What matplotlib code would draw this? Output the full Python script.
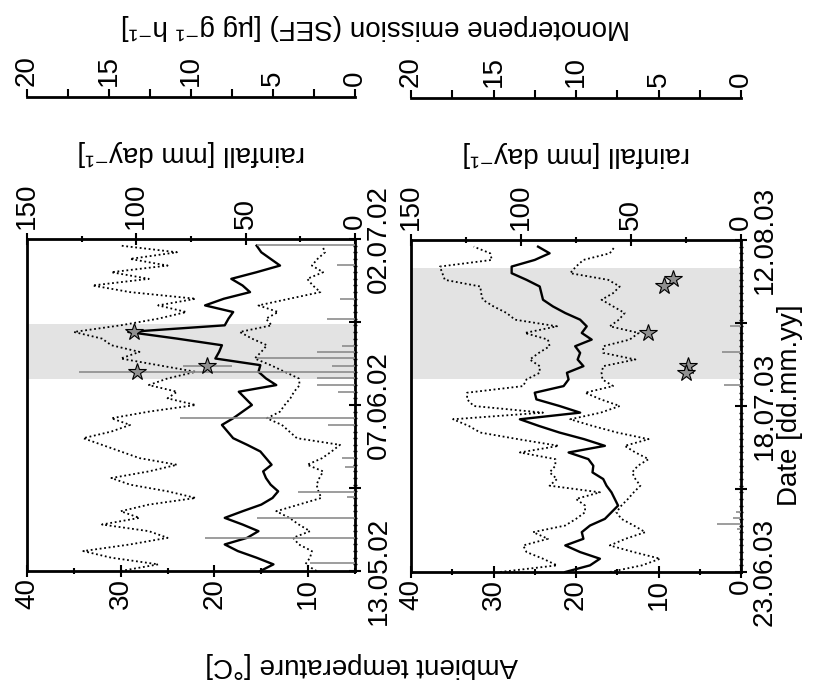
import matplotlib.pyplot as plt
from matplotlib.ticker import MultipleLocator, FixedLocator

plt.rcParams['font.family'] = ['Liberation Sans', 'DejaVu Sans']
plt.rcParams['font.size'] = 20

# ---- 2002 (13.05.02 - 02.07.02), day 0 = 13.05.02
days02 = list(range(50))
tmean02 = [15.1, 13.7, 15.5, 17.5, 18.9, 16.5, 15.3, 17.0, 18.9, 17.0,
           15.0, 13.8, 13.2, 14.0, 14.5, 14.8, 13.9, 14.5, 15.1, 16.5,
           18.0, 18.6, 19.2, 18.0, 17.0, 16.0, 16.7, 17.4, 13.4, 14.5,
           15.3, 15.1, 19.9, 19.5, 19.2, 24.0, 29.2, 18.9, 18.5, 18.0,
           21.0, 19.0, 16.2, 17.0, 18.2, 15.5, 13.0, 14.0, 15.0, 15.5]
tmax02 = [30.0, 26.0, 31.0, 34.0, 29.0, 25.0, 27.0, 32.0, 28.0, 30.0,
          27.0, 22.0, 25.0, 29.0, 31.0, 27.0, 24.0, 28.0, 30.0, 32.0,
          34.0, 31.0, 29.0, 31.0, 27.0, 22.0, 25.0, 24.0, 27.0, 25.0,
          22.0, 26.0, 30.0, 28.0, 31.0, 32.0, 35.0, 30.0, 26.0, 23.0,
          26.0, 22.0, 29.0, 33.0, 27.0, 31.0, 25.0, 29.0, 24.0, 30.0]
tmin02 = [9.1, 10.3, 9.8, 9.6, 11.0, 11.6, 9.8, 11.0, 12.0, 13.4,
          11.0, 8.6, 8.9, 9.1, 8.8, 8.4, 10.1, 8.5, 7.5, 6.6,
          11.2, 12.0, 12.8, 14.4, 13.0, 12.5, 11.9, 11.5, 10.9, 11.0,
          12.5, 14.0, 15.7, 15.0, 14.4, 16.0, 17.3, 13.9, 14.5, 13.2,
          15.3, 12.0, 8.7, 9.5, 10.1, 8.4, 9.6, 9.0, 8.2, 8.5]
rain_days02 = [49.1, 46.1, 40.9, 38.0, 33.9, 33.0, 32.1, 30.9, 29.9, 29.0,
               28.0, 27.0, 23.0, 22.0, 17.0, 15.7, 11.9, 11.2, 8.0, 4.9, 1.2]
rain02 = [45.0, 8.4, 6.8, 12.9, 6.1, 17.5, 45.0, 10.6, 80.0, 17.5,
          17.5, 7.6, 80.0, 12.2, 6.0, 4.5, 25.9, 3.8, 45.0, 68.5, 20.5]
star_days02 = [36.0, 30.9, 29.9]
sef02 = [13.5, 9.0, 13.3]
sef_err02 = [0.0, 1.5, 3.5]
shade02 = (28.9, 37.2)

# ---- 2003 (23.06.03 - 12.08.03), day 0 = 23.06.03
days03 = list(range(50))
tmean03 = [21.3, 18.3, 17.1, 19.5, 21.3, 19.1, 19.3, 18.3, 16.5, 15.7,
           14.9, 15.3, 15.7, 16.3, 16.7, 18.0, 17.9, 18.5, 20.9, 16.5,
           19.0, 22.0, 24.5, 26.8, 19.5, 22.0, 24.8, 25.0, 21.5, 20.9,
           21.1, 19.1, 19.8, 19.5, 20.1, 18.1, 19.3, 18.7, 19.5, 21.3,
           22.8, 24.0, 24.2, 24.4, 26.0, 27.8, 27.8, 25.0, 23.2, 24.6]
tmax03 = [29.2, 22.3, 24.0, 26.0, 26.4, 23.4, 25.2, 21.3, 20.0, 18.9,
          18.9, 20.0, 17.1, 23.2, 22.3, 23.2, 22.5, 22.5, 26.8, 22.1,
          27.0, 31.6, 33.0, 34.9, 24.0, 32.4, 33.2, 33.2, 26.4, 26.0,
          24.4, 24.4, 25.6, 24.5, 23.2, 23.4, 26.2, 22.3, 27.4, 28.4,
          30.0, 31.3, 31.5, 31.6, 35.9, 36.2, 36.5, 30.2, 30.4, 32.4]
tmin03 = [15.9, 12.0, 9.8, 13.0, 15.9, 14.0, 11.6, 13.0, 14.5, 15.1,
          14.5, 13.7, 13.0, 12.2, 12.8, 13.2, 12.5, 11.2, 12.8, 14.1,
          11.2, 15.0, 18.0, 20.7, 17.0, 14.7, 17.0, 18.9, 15.5, 16.8,
          16.9, 16.7, 12.8, 16.7, 16.7, 13.5, 12.4, 15.9, 14.8, 14.1,
          15.5, 16.9, 15.5, 14.7, 16.1, 20.7, 20.0, 19.1, 15.9, 15.3]
rain_days03 = [37.0, 33.2, 28.2, 9.0, 8.2, 7.3, 6.5]
rain03 = [5.0, 8.8, 7.6, 2.5, 3.5, 11.0, 2.0]
star_days03 = [44.1, 43.1, 36.0, 31.0, 30.0]
sef03 = [4.14, 4.67, 5.65, 3.19, 3.33]
sef_err03 = [0.0, 0.0, 0.0, 0.0, 0.0]
shade03 = (29.1, 45.8)

W, H = 813, 693
fig = plt.figure(figsize=(W / 100, H / 100), dpi=100)


def panel(x0, x1, y0, y1, tlow, days, tmean, tmax, tmin, rdays, rain,
          sdays, sef, serr, shade, dlabels):
    rect = [x0 / W, 1 - y1 / H, (x1 - x0) / W, (y1 - y0) / H]
    ax = fig.add_axes(rect)
    ax.set_xlim(40, tlow)
    ax.set_ylim(0, 50)
    ax.axhspan(shade[0], shade[1], color='#e3e3e3', lw=0, zorder=0)
    ax.plot(tmax, days, color='k', ls=(0, (1, 1.5)), lw=1.3)
    ax.plot(tmin, days, color='k', ls=(0, (1, 1.5)), lw=1.3)
    ax.plot(tmean, days, color='k', lw=1.7)
    for s in ax.spines.values():
        s.set_linewidth(2)
    ax.xaxis.set_major_locator(MultipleLocator(10))
    ax.xaxis.set_minor_locator(MultipleLocator(5))
    ax.tick_params(axis='x', which='major', direction='inout', length=9, width=1.5,
                   pad=0.5, labelrotation=90)
    ax.tick_params(axis='x', which='minor', direction='inout', length=5, width=1.5)
    ax.yaxis.tick_right()
    ax.yaxis.set_major_locator(FixedLocator([0, 12.5, 25, 37.5, 50]))
    ax.set_yticklabels([dlabels[0], '', dlabels[1], '', dlabels[2]])
    ax.yaxis.set_minor_locator(MultipleLocator(1))
    ax.tick_params(axis='y', which='major', direction='inout', length=9, width=1.5,
                   pad=3, labelrotation=90)
    ax.tick_params(axis='y', which='minor', direction='inout', length=3, width=1)
    for t in ax.get_yticklabels():
        t.set_va('center')

    # rainfall axis (top)
    ax2 = ax.twiny()
    ax2.set_xlim(150, 0)
    ax2.hlines(rdays, 0, rain, color='#8c8c8c', lw=1.2)
    for s in ax2.spines.values():
        s.set_visible(False)
    ax2.xaxis.set_major_locator(MultipleLocator(50))
    ax2.xaxis.set_minor_locator(MultipleLocator(25))
    ax2.tick_params(axis='x', which='major', direction='inout', length=9, width=1.5,
                    pad=3, labelrotation=90)
    ax2.tick_params(axis='x', which='minor', direction='inout', length=5, width=1.5)
    ax2.set_xlabel('rainfall [mm day⁻¹]', rotation=180, labelpad=16)

    # monoterpene emission axis (further up)
    ax3 = ax.twiny()
    ax3.set_xlim(20, 0)
    for k, s in ax3.spines.items():
        s.set_visible(k == 'top')
    ax3.spines['top'].set_position(('outward', 102))
    ax3.spines['top'].set_linewidth(2)
    ax3.xaxis.set_major_locator(MultipleLocator(5))
    ax3.xaxis.set_minor_locator(MultipleLocator(2.5))
    ax3.tick_params(axis='x', which='major', direction='out', length=6, width=1.5,
                    pad=2, labelrotation=90)
    ax3.tick_params(axis='x', which='minor', direction='out', length=6, width=1.5)
    ax3.errorbar(sef, sdays, xerr=serr, fmt='none', ecolor='#8c8c8c', elinewidth=1.2)
    ax3.plot(sef, sdays, ls='none', marker='*', ms=13, mfc='#909090', mec='k', mew=0.8)
    return ax


panel(27, 355, 239, 571, 5, days02, tmean02, tmax02, tmin02, rain_days02, rain02,
      star_days02, sef02, sef_err02, shade02, ['13.05.02', '07.06.02', '02.07.02'])
panel(411, 741, 240, 572, 0, days03, tmean03, tmax03, tmin03, rain_days03, rain03,
      star_days03, sef03, sef_err03, shade03, ['23.06.03', '18.07.03', '12.08.03'])

fig.text(362 / W, 1 - 665 / H, 'Ambient temperature [°C]', rotation=180,
         ha='center', va='center')
fig.text(375 / W, 1 - 27 / H, 'Monoterpene emission (SEF) [µg g⁻¹ h⁻¹]',
         rotation=180, ha='center', va='center')
fig.text(790 / W, 1 - 405 / H, 'Date [dd.mm.yy]', rotation=90, ha='center', va='center')

fig.savefig('out.png', dpi=100)
